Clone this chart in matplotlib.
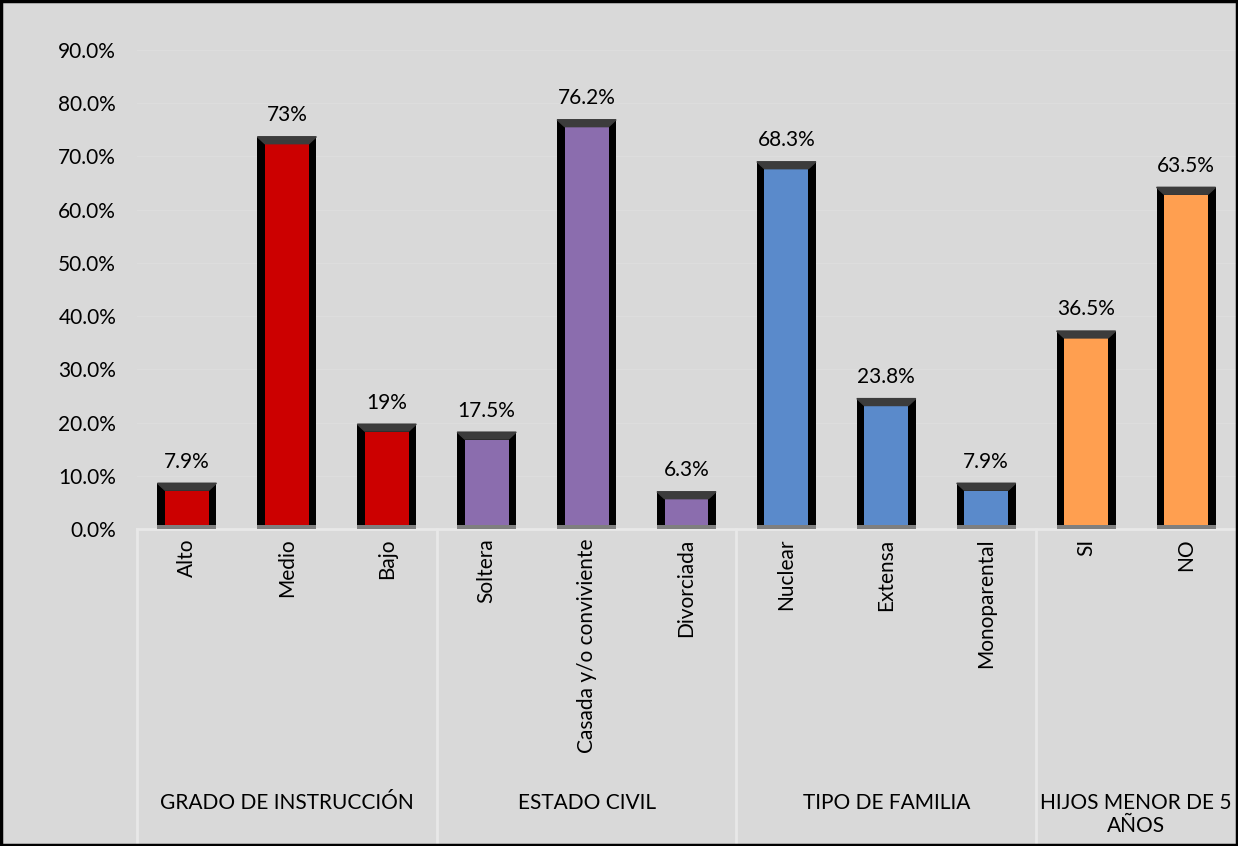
import matplotlib.pyplot as plt
import matplotlib.transforms as mtransforms
from matplotlib.patches import Polygon, Rectangle

plt.rcParams['font.family'] = ['Lato', 'DejaVu Sans']

# Datos del gráfico
categorias = ["Alto", "Medio", "Bajo",
              "Soltera", "Casada y/o conviviente", "Divorciada",
              "Nuclear", "Extensa", "Monoparental",
              "SI", "NO"]
porcentajes = [7.9, 73.0, 19.0, 17.5, 76.2, 6.3, 68.3, 23.8, 7.9, 36.5, 63.5]
etiquetas = ["7.9%", "73%", "19%", "17.5%", "76.2%", "6.3%",
             "68.3%", "23.8%", "7.9%", "36.5%", "63.5%"]
grupos = ["GRADO DE INSTRUCCIÓN", "ESTADO CIVIL", "TIPO DE FAMILIA",
          "HIJOS MENOR DE 5\nAÑOS"]
tam_grupos = [3, 3, 3, 2]
colores_grupo = ["#CC0000", "#8B6DAE", "#5A8ACB", "#FF9F50"]
marcas_y = [0, 10, 20, 30, 40, 50, 60, 70, 80, 90]

fondo = "#D9D9D9"
fs = 15
fig = plt.figure(figsize=(12.38, 8.46), dpi=100, facecolor=fondo)
ax = fig.add_axes([137 / 1238, (846 - 529) / 846, 1099 / 1238, 479 / 846])
ax.set_facecolor(fondo)

colores = []
for c, n in zip(colores_grupo, tam_grupos):
    colores += [c] * n

x = list(range(len(categorias)))
ancho_ext = 0.59
ancho_int = 0.44
borde_sup = 0.7   # marco negro sobre el valor
bisel = 1.3       # alto del bisel superior
base = 0.8        # franja gris en la base

# marco negro
ax.bar(x, [v + borde_sup for v in porcentajes], width=ancho_ext,
       color="black", zorder=3)
# franja inferior gris
ax.bar(x, base, width=ancho_ext, color="#7F7F7F", zorder=4)
# relleno de color
ax.bar(x, [v - borde_sup - base for v in porcentajes], bottom=base,
       width=ancho_int, color=colores, zorder=5)
# bisel superior
for xi, v in zip(x, porcentajes):
    top = v + borde_sup
    pts = [(xi - ancho_ext / 2, top), (xi + ancho_ext / 2, top),
           (xi + ancho_int / 2, top - bisel), (xi - ancho_int / 2, top - bisel)]
    ax.add_patch(Polygon(pts, closed=True, color="#3C3C3C", zorder=6))

for xi, v, t in zip(x, porcentajes, etiquetas):
    ax.annotate(t, (xi, v), xytext=(0, 11), textcoords="offset points",
                ha="center", va="bottom", fontsize=fs, color="black")

ax.set_xlim(-0.5, len(categorias) - 0.5)
ax.set_ylim(0, 90)
ax.set_yticks(marcas_y)
ax.set_yticklabels([f"{m:.1f}%" for m in marcas_y], fontsize=fs)
ax.set_xticks(x)
ax.set_xticklabels(categorias, rotation=90, fontsize=fs, va="top")
ax.tick_params(axis="both", length=0)
ax.tick_params(axis="y", pad=15)
ax.tick_params(axis="x", pad=7)
ax.grid(axis="y", color="#DDDDDD", linewidth=1)
ax.set_axisbelow(True)
for s in ax.spines.values():
    s.set_visible(False)

# eje x y separadores de grupo
trans = mtransforms.blended_transform_factory(ax.transData, ax.transAxes)
ax.plot([-0.5, len(categorias) - 0.5], [0, 0], transform=trans,
        color="#E8E8E8", linewidth=2, clip_on=False, zorder=2)
inicio = 0
for g, n in zip(grupos, tam_grupos):
    ax.plot([inicio - 0.5, inicio - 0.5], [0, -0.67], transform=trans,
            color="#E8E8E8", linewidth=2, clip_on=False)
    ax.text(inicio + (n - 1) / 2, -0.552, g, transform=trans, ha="center",
            va="top", fontsize=fs, linespacing=1.15)
    inicio += n

# marco exterior
fig.patches.append(Rectangle((0.001, 0.001), 0.998, 0.998,
                             transform=fig.transFigure, fill=False,
                             edgecolor="black", linewidth=2.5))

fig.savefig("out.png", dpi=100, facecolor=fondo)
